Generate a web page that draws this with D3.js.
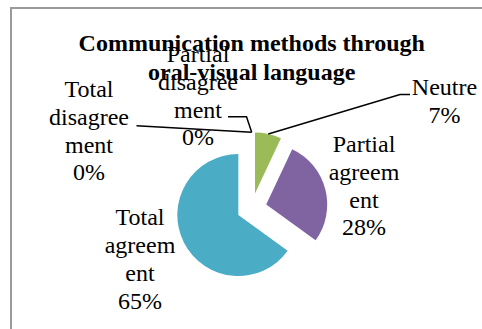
<!DOCTYPE html>
<html>
<head>
<meta charset="utf-8">
<script src="https://cdn.jsdelivr.net/npm/d3@7"></script>
<style>
  body { margin: 0; }
  svg text { font-family: "Liberation Serif", "Times New Roman", serif !important; }
</style>
</head>
<body>
<svg id="chart" width="482" height="329"></svg>
<script>
// ---- data ----
const categories = ["Total disagreement", "Partial disagreement", "Neutre", "Partial agreement", "Total agreement"];
const values = [0, 0, 7, 28, 65];
const labelLines = [
  ["Total", "disagree", "ment", "0%"],
  ["Partial", "disagree", "ment", "0%"],
  ["Neutre", "7%"],
  ["Partial", "agreem", "ent", "28%"],
  ["Total", "agreem", "ent", "65%"]
];
const colors = ["#4F81BD", "#C0504D", "#9BBB59", "#8064A2", "#4BACC6"];
const titleLines = ["Communication methods through", "oral-visual language"];

// ---- layout ----
const svg = d3.select("#chart");
const W = 482, H = 329;
const cx = 251.7, cy = 208.2, r = 61, explode = 15;

// frame
svg.append("rect").attr("x", 11).attr("y", 8).attr("width", W + 20).attr("height", H + 20)
  .attr("fill", "#fff").attr("stroke", "#9a9a9a").attr("stroke-width", 2);

const pie = d3.pie().sort(null).value(d => d).startAngle(0).endAngle(2 * Math.PI);
const arcs = pie(values);
const arc = d3.arc().innerRadius(0).outerRadius(r);

const g = svg.append("g").attr("transform", `translate(${cx},${cy})`);

function dir(a) { return [Math.sin(a), -Math.cos(a)]; }

g.selectAll("path.slice").data(arcs).enter().append("path")
  .attr("class", "slice")
  .attr("d", arc)
  .attr("fill", (d, i) => colors[i])
  .attr("transform", d => {
    const m = (d.startAngle + d.endAngle) / 2;
    const [dx, dy] = dir(m);
    return `translate(${dx * explode},${dy * explode})`;
  });

function outerPoint(d) {
  const m = (d.startAngle + d.endAngle) / 2;
  const [dx, dy] = dir(m);
  return [cx + dx * (r + explode), cy + dy * (r + explode)];
}

const labelPos = [
  { x: 89, y: 96.7, lead: [[136.5, 125.7]] },
  { x: 198, y: 61.7, lead: [[228, 116.7], [246.5, 116.7]] },
  { x: 444.5, y: 95, lead: [[410, 94.5], [400, 94.5]] },
  { x: 364, y: 151.7, lead: null },
  { x: 140, y: 224.8, lead: null }
];
const lineH = 27.9;

arcs.forEach((d, i) => {
  const lp = labelPos[i];
  if (!lp.lead) return;
  const pts = lp.lead.concat([outerPoint(d)]);
  svg.append("path")
    .attr("d", d3.line()(pts))
    .attr("fill", "none").attr("stroke", "#000").attr("stroke-width", 1.5);
});

arcs.forEach((d, i) => {
  const lp = labelPos[i];
  labelLines[i].forEach((s, k) => {
    svg.append("text")
      .style("font-family", "Liberation Serif").style("font-size", "24px")
      .attr("text-anchor", "middle").attr("fill", "#000")
      .attr("x", lp.x).attr("y", lp.y + k * lineH).text(s);
  });
});

titleLines.forEach((s, k) => {
  svg.append("text")
    .style("font-family", "Liberation Serif").style("font-size", "24px").style("font-weight", "bold")
    .attr("text-anchor", "middle").attr("fill", "#000")
    .attr("x", 251.7).attr("y", 51.3 + k * 29).text(s);
});
</script>
</body>
</html>
